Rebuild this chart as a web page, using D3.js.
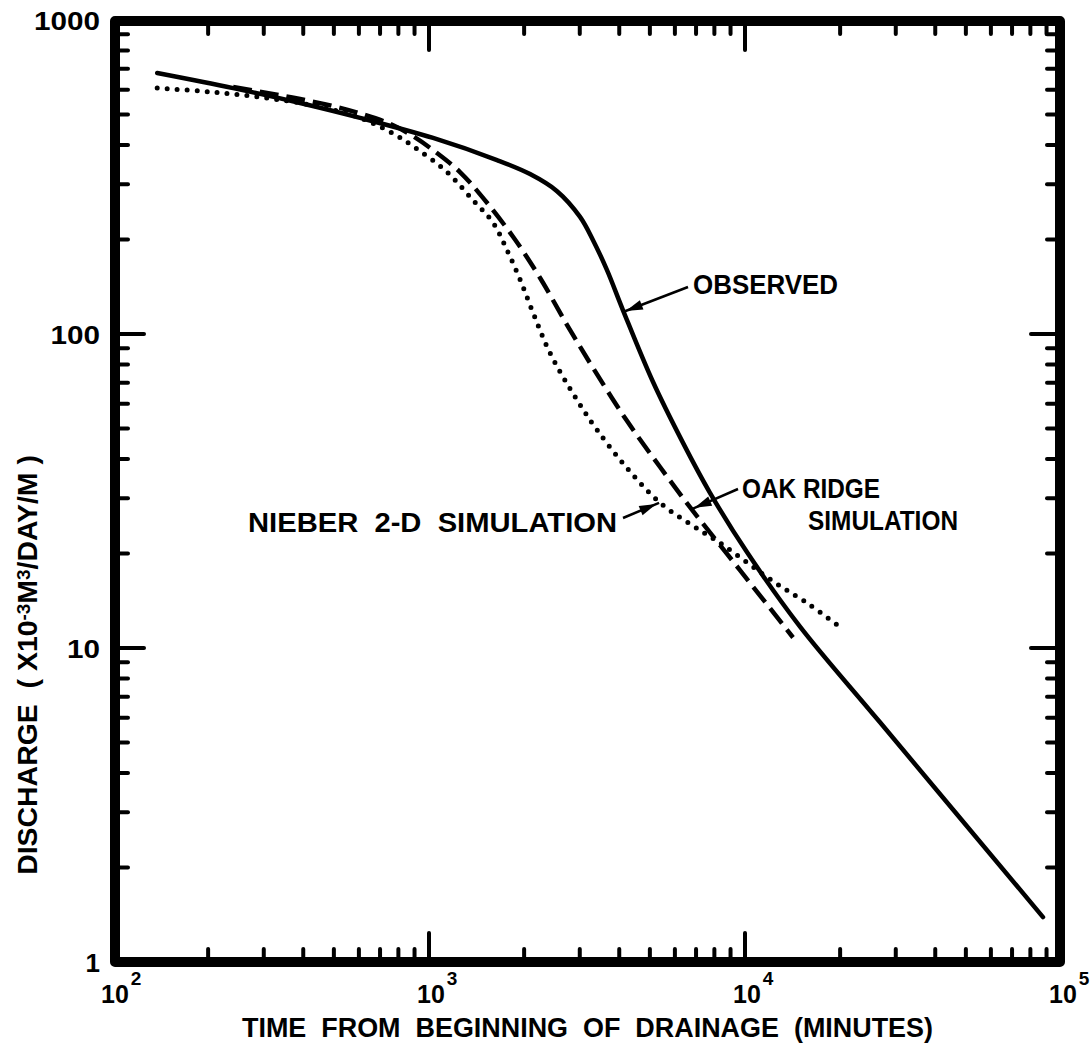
<!DOCTYPE html>
<html>
<head>
<meta charset="utf-8">
<script src="https://cdn.jsdelivr.net/npm/d3@7"></script>
<style>
  body { margin: 0; background: #fff; }
  svg { display: block; }
  text { font-family: "Liberation Sans", Arial, sans-serif; font-weight: bold; fill: #000; }
</style>
</head>
<body>
<svg id="chart" width="1092" height="1047"></svg>
<script>
// Drainage time (minutes) and discharge (x10^-3 m^3/day/m) for each curve
const observedTime = [138, 240, 391, 605, 1030, 1641, 2088, 2542, 3006, 3304, 3656, 4111, 5117, 6366, 7748, 10140, 14930, 26700, 87700];
const observedQ    = [678, 607, 544, 488, 421, 358, 323, 285, 236, 199, 160, 119, 70.3, 45.0, 31.2, 20.2, 11.7, 5.81, 1.39];

const oakRidgeTime = [240, 307, 391, 497, 605, 753, 889, 1060, 1253, 1449, 1845, 2245, 2733, 3304, 4236, 5385, 6697, 9638, 14190];
const oakRidgeQ    = [612, 586, 560, 532, 504, 467, 427, 377, 328, 279, 204, 151, 107, 78.0, 52.8, 37.7, 28.1, 17.7, 10.8];

const nieberTime = [138, 188, 240, 307, 391, 497, 605, 736, 889, 1140, 1377, 1596, 1766, 1942, 2134, 2416, 2941, 3403, 4236, 5385, 6843, 8336, 12280, 16070, 19680];
const nieberQ    = [607, 594, 581, 564, 544, 517, 488, 446, 397, 328, 267, 226, 185, 149, 117, 87.0, 61.6, 49.5, 37.4, 29.0, 24.5, 21.6, 16.3, 13.7, 11.8];

// Axis decades and their labels
const xDecades = [1e2, 1e3, 1e4, 1e5];
const xTickExponents = ["2", "3", "4", "5"];
const yDecades = [1, 10, 100, 1000];
const yTickLabels = ["1", "10", "100", "1000"];

// Curve labels: text lines and the curve point each arrow points at
const observedLabel = ["OBSERVED"];
const observedArrowAt = [4111, 117.5];
const oakRidgeLabel = ["OAK RIDGE", "SIMULATION"];
const oakRidgeArrowAt = [6790, 27.7];
const nieberLabel = ["NIEBER\u00a0 2-D\u00a0 SIMULATION"];
const nieberArrowAt = [5346, 29.0];

const xTitle = "TIME\u00a0 FROM\u00a0 BEGINNING\u00a0 OF\u00a0 DRAINAGE\u00a0 (MINUTES)";

const svg = d3.select("#chart");

const x = d3.scaleLog().domain([1e2, 1e5]).range([113, 1061]);
const y = d3.scaleLog().domain([1, 1000]).range([962, 20]);

const frame = { left: 115, right: 1060, top: 21, bottom: 962 };

// ---- tick marks (inward on all four sides) ----
const ticks = svg.append("g").attr("stroke", "#000").attr("stroke-width", 4).attr("stroke-linecap", "round");
const majorLen = 29, minorLen = 13;

const xTickVals = [];
xDecades.slice(0, -1).forEach(d => { for (let m = 1; m <= 9; m++) xTickVals.push({ v: d * m, major: m === 1 }); });
xTickVals.filter(t => t.v > 1e2).forEach(t => {
  const len = t.major ? majorLen : minorLen;
  const px = x(t.v);
  ticks.append("line").attr("x1", px).attr("x2", px).attr("y1", frame.bottom).attr("y2", frame.bottom - len);
  ticks.append("line").attr("x1", px).attr("x2", px).attr("y1", frame.top).attr("y2", frame.top + len);
});

const yTickVals = [];
yDecades.slice(0, -1).forEach(d => { for (let m = 1; m <= 9; m++) yTickVals.push({ v: d * m, major: m === 1 }); });
yTickVals.filter(t => t.v > 1).forEach(t => {
  const len = t.major ? majorLen : minorLen;
  const py = y(t.v);
  ticks.append("line").attr("y1", py).attr("y2", py).attr("x1", frame.left).attr("x2", frame.left + len);
  ticks.append("line").attr("y1", py).attr("y2", py).attr("x1", frame.right).attr("x2", frame.right - len);
});

// ---- frame ----
svg.append("rect")
  .attr("x", frame.left).attr("y", frame.top)
  .attr("width", frame.right - frame.left).attr("height", frame.bottom - frame.top)
  .attr("fill", "none").attr("stroke", "#000").attr("stroke-width", 10)
  .attr("stroke-linejoin", "round");

// ---- tick labels ----
yDecades.forEach((v, i) => {
  svg.append("text").attr("x", 100).attr("y", y(v) + 9.5)
    .attr("text-anchor", "end").attr("font-size", 26)
    .attr("textLength", yTickLabels[i].length === 1 ? null : yTickLabels[i].length * 16.5)
    .attr("lengthAdjust", "spacingAndGlyphs")
    .text(yTickLabels[i]);
});

// powers of ten: "10" with a raised exponent in one text element
xDecades.forEach((v, i) => {
  const px = x(v);
  const t = svg.append("text").attr("x", px - 12).attr("y", 1003).attr("font-size", 25);
  t.append("tspan").text("10");
  t.append("tspan").attr("font-size", 19).attr("dx", 2).attr("dy", -18).text(xTickExponents[i]);
});

// ---- axis titles ----
svg.append("text").attr("x", 242).attr("y", 1037)
  .attr("font-size", 27).attr("textLength", 691).attr("lengthAdjust", "spacingAndGlyphs")
  .text(xTitle);

const yTitle = svg.append("text").attr("text-anchor", "middle").attr("font-size", 27)
  .style("white-space", "pre");
yTitle.append("tspan").text("DISCHARGE  ( X10");
yTitle.append("tspan").attr("font-size", 18).attr("dy", -7).text("-3");
yTitle.append("tspan").attr("dy", 7).text("M");
yTitle.append("tspan").attr("font-size", 18).attr("dy", -7).text("3");
yTitle.append("tspan").attr("dy", 7).text("/DAY/M )");
const yTitleW = yTitle.node().getComputedTextLength();
yTitle.attr("transform", `translate(37,665) rotate(-90) scale(${420 / yTitleW},1)`);

// ---- curves ----
const line = d3.line().x(d => x(d[0])).y(d => y(d[1])).curve(d3.curveCatmullRom.alpha(0.5));
const zip = (a, b) => a.map((t, i) => [t, b[i]]);

svg.append("path").datum(zip(oakRidgeTime, oakRidgeQ))
  .attr("d", line).attr("fill", "none").attr("stroke", "#000")
  .attr("stroke-width", 4.5).attr("stroke-dasharray", "19 8");

svg.append("path").datum(zip(nieberTime, nieberQ))
  .attr("d", line).attr("fill", "none").attr("stroke", "#000")
  .attr("stroke-width", 5).attr("stroke-linecap", "round").attr("stroke-dasharray", "0 10");

svg.append("path").datum(zip(observedTime, observedQ))
  .attr("d", line).attr("fill", "none").attr("stroke", "#000")
  .attr("stroke-width", 4.5).attr("stroke-linecap", "round");

// ---- labels with arrows ----
function arrow(x0, y0, tip) {
  const x1 = x(tip[0]), y1 = y(tip[1]);
  svg.append("line").attr("x1", x0).attr("y1", y0).attr("x2", x1).attr("y2", y1)
    .attr("stroke", "#000").attr("stroke-width", 2.5);
  const ang = Math.atan2(y1 - y0, x1 - x0);
  const back = 3, len = 17, hw = 5;
  const ax = x1 - back * Math.cos(ang), ay = y1 - back * Math.sin(ang);
  const bx = ax - len * Math.cos(ang), by = ay - len * Math.sin(ang);
  const nx = -Math.sin(ang) * hw, ny = Math.cos(ang) * hw;
  svg.append("path")
    .attr("d", `M${ax},${ay}L${bx + nx},${by + ny}L${bx - nx},${by - ny}Z`)
    .attr("fill", "#000");
}

function label(text, px, py, w) {
  svg.append("text").attr("x", px).attr("y", py).attr("font-size", 27)
    .attr("textLength", w).attr("lengthAdjust", "spacingAndGlyphs").text(text);
}

label(observedLabel[0], 693, 294, 145);
arrow(688, 287, observedArrowAt);

label(oakRidgeLabel[0], 742, 498, 138);
label(oakRidgeLabel[1], 808, 530, 150);
arrow(738, 489, oakRidgeArrowAt);

label(nieberLabel[0], 248, 532, 369);
arrow(623, 518, nieberArrowAt);
</script>
</body>
</html>
